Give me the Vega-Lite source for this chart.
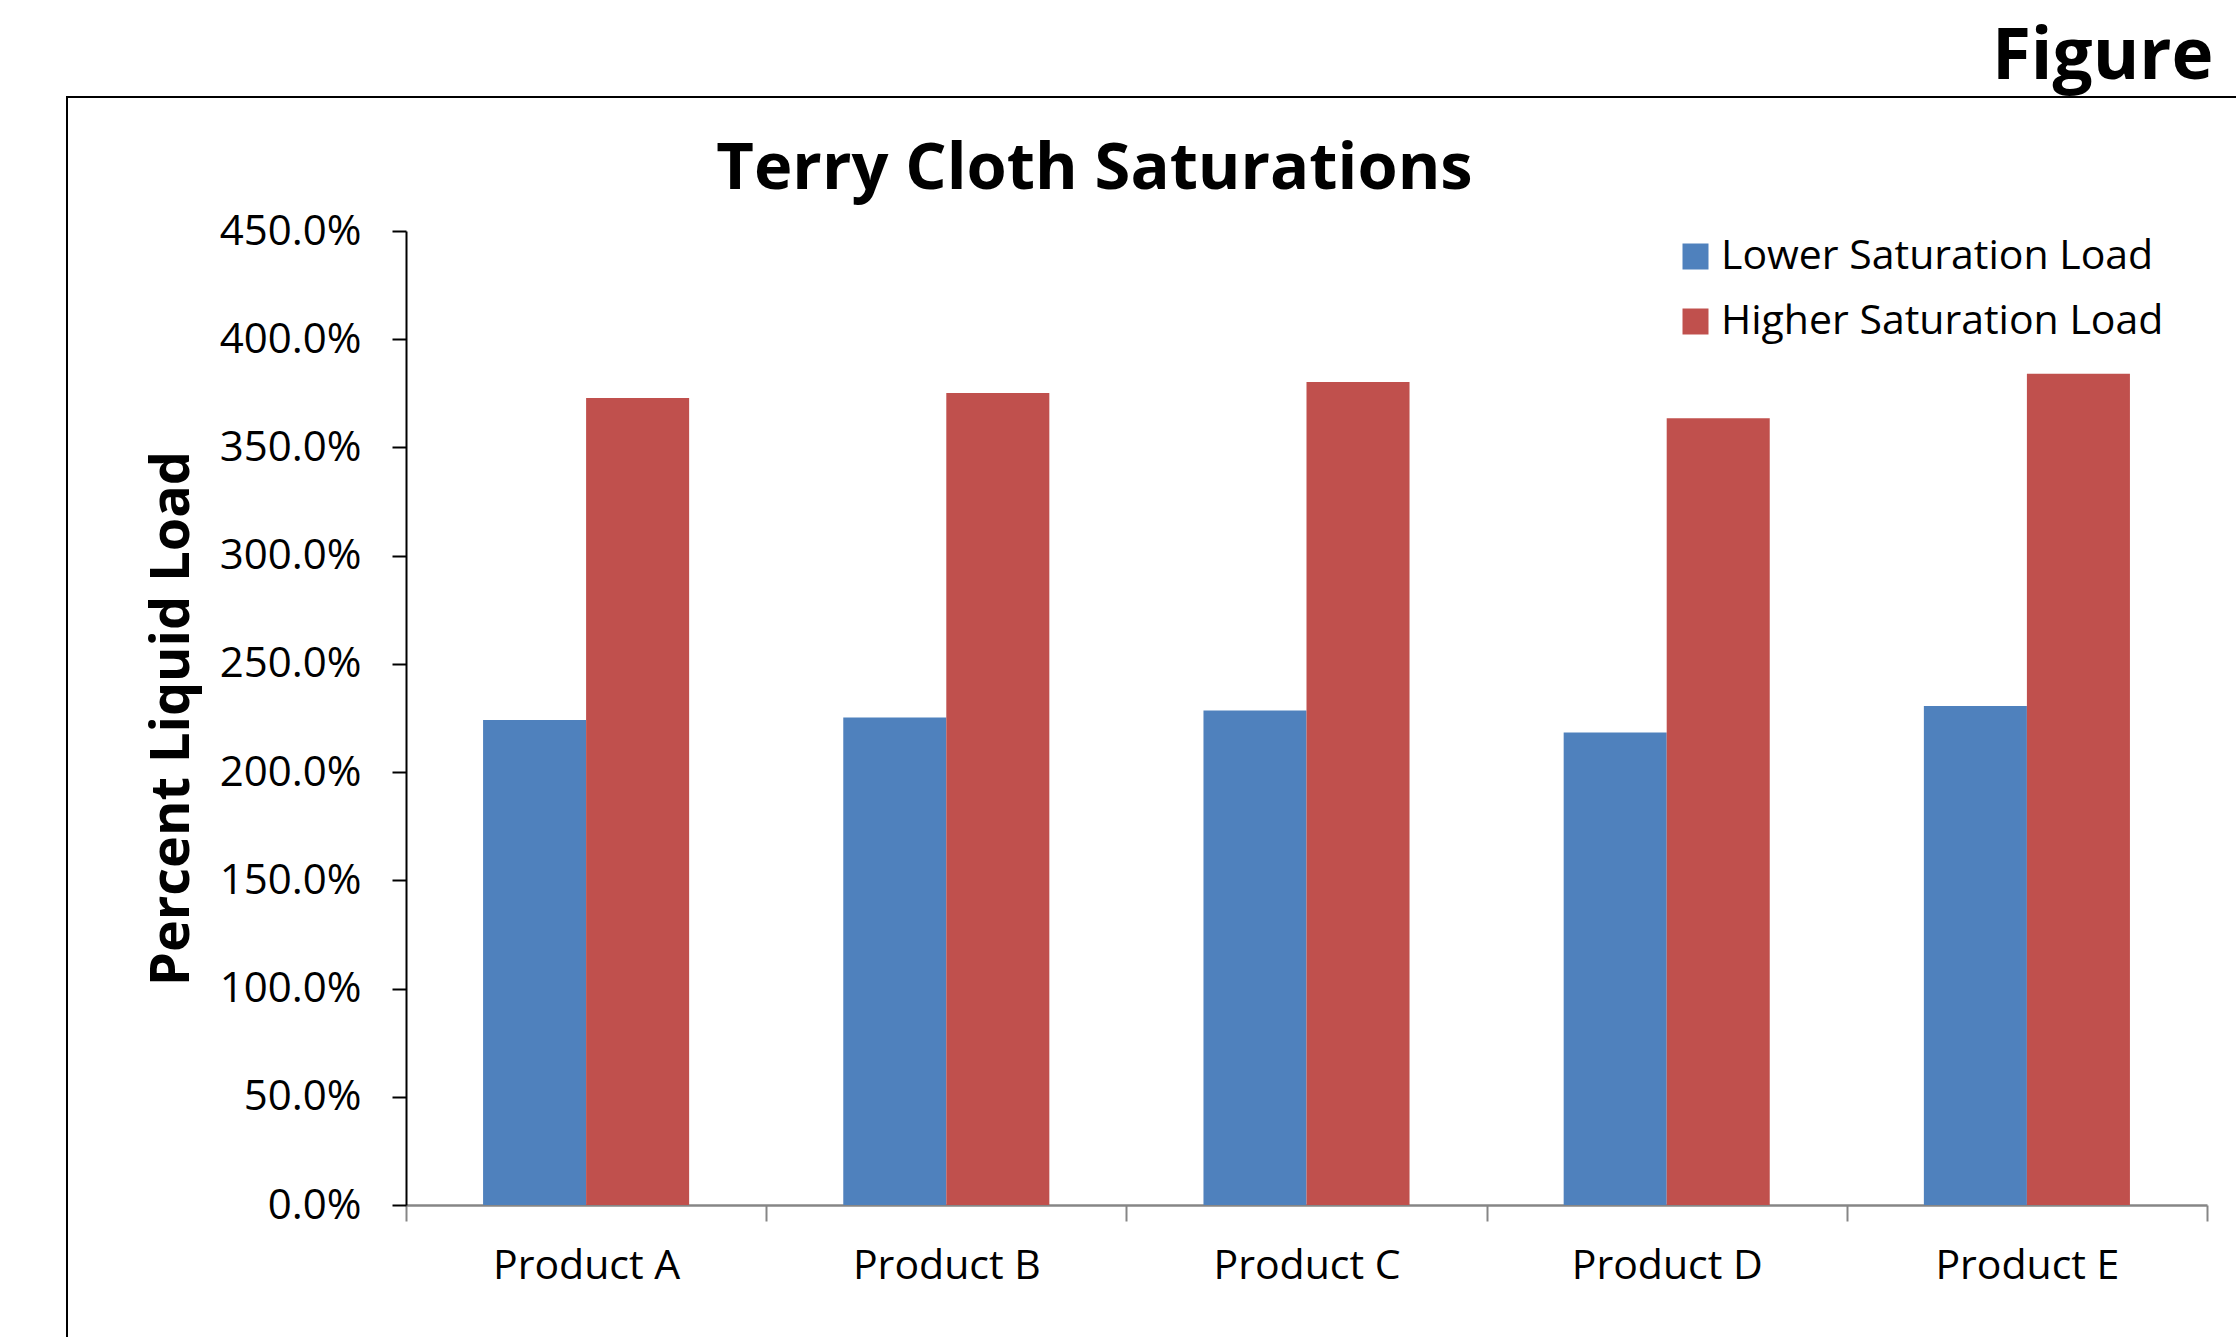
{
  "$schema": "https://vega.github.io/schema/vega-lite/v6.json",
  "autosize": {"type": "none"},
  "padding": {"left": 67, "top": 97, "right": -2, "bottom": -2},
  "width": 2171,
  "height": 1242,
  "background": "white",
  "config": {
    "font": "Open Sans",
    "view": {"stroke": "black", "strokeWidth": 2},
    "axis": {"grid": false}
  },
  "title": {
    "text": "Terry Cloth Saturations",
    "frame": "group",
    "anchor": "middle",
    "orient": "top",
    "dx": -58,
    "dy": 142,
    "offset": -91,
    "baseline": "alphabetic",
    "fontSize": 65,
    "fontWeight": "bold",
    "color": "black"
  },
  "data": {
    "values": [
      {"product": "Product A", "series": "Lower Saturation Load", "load": 2.241},
      {"product": "Product A", "series": "Higher Saturation Load", "load": 3.729},
      {"product": "Product B", "series": "Lower Saturation Load", "load": 2.252},
      {"product": "Product B", "series": "Higher Saturation Load", "load": 3.751},
      {"product": "Product C", "series": "Lower Saturation Load", "load": 2.285},
      {"product": "Product C", "series": "Higher Saturation Load", "load": 3.802},
      {"product": "Product D", "series": "Lower Saturation Load", "load": 2.183},
      {"product": "Product D", "series": "Higher Saturation Load", "load": 3.635},
      {"product": "Product E", "series": "Lower Saturation Load", "load": 2.306},
      {"product": "Product E", "series": "Higher Saturation Load", "load": 3.840}
    ]
  },
  "mark": {"type": "bar"},
  "encoding": {
    "x": {
      "field": "product",
      "type": "nominal",
      "scale": {"range": [339, 2140], "paddingInner": 0, "paddingOuter": 0},
      "axis": {
        "orient": "bottom",
        "offset": -134,
        "labelAngle": 0,
        "labelFontSize": 41,
        "labelColor": "black",
        "labelPadding": 25,
        "labelLimit": 0,
        "tickBand": "extent",
        "tickSize": 16,
        "tickWidth": 2,
        "tickColor": "#868686",
        "domainColor": "#868686",
        "domainWidth": 2.5,
        "title": "Figure",
        "titleFontSize": 71,
        "titleFontWeight": "bold",
        "titleColor": "black",
        "titleAngle": 0,
        "titleAlign": "right",
        "titleBaseline": "alphabetic",
        "titleX": 2146,
        "titleY": -1127
      }
    },
    "xOffset": {
      "field": "series",
      "type": "nominal",
      "scale": {"domain": ["Lower Saturation Load", "Higher Saturation Load"], "paddingInner": 0, "paddingOuter": 0.748}
    },
    "y": {
      "field": "load",
      "type": "quantitative",
      "scale": {"domain": [0, 4.5], "range": [1108, 134], "nice": false},
      "axis": {
        "orient": "left",
        "offset": -339,
        "values": [0, 0.5, 1, 1.5, 2, 2.5, 3, 3.5, 4, 4.5],
        "format": ".1%",
        "labelFontSize": 42,
        "labelColor": "black",
        "labelPadding": 31,
        "tickSize": 14,
        "tickWidth": 2,
        "tickColor": "black",
        "domainColor": "black",
        "domainWidth": 2,
        "title": "Percent Liquid Load",
        "titleFontSize": 54,
        "titleFontWeight": "bold",
        "titleColor": "black",
        "titlePadding": 20
      }
    },
    "color": {
      "field": "series",
      "type": "nominal",
      "scale": {"domain": ["Lower Saturation Load", "Higher Saturation Load"], "range": ["#4F81BD", "#C0504D"]},
      "legend": {
        "orient": "none",
        "legendX": 1608,
        "legendY": 139,
        "title": null,
        "symbolType": "square",
        "symbolSize": 676,
        "symbolStrokeWidth": 0,
        "labelFontSize": 41,
        "labelColor": "black",
        "labelOffset": 5,
        "labelLimit": 0,
        "rowPadding": 23,
        "padding": 0
      }
    }
  }
}
